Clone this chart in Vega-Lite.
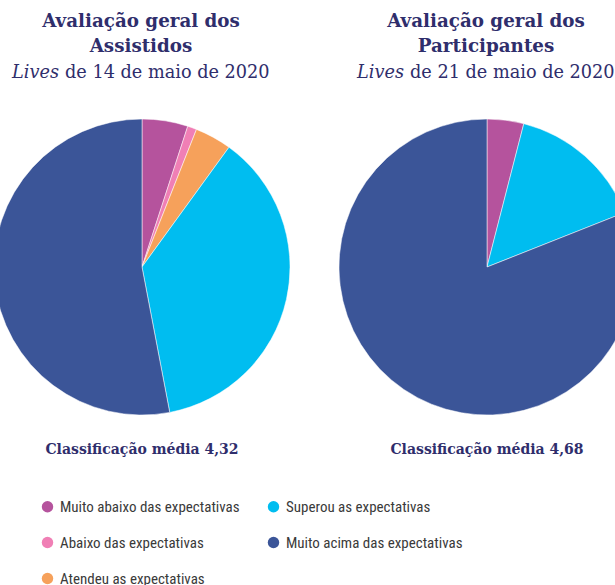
{
  "$schema": "https://vega.github.io/schema/vega-lite/v6.json",
  "width": 615,
  "height": 585,
  "padding": 0,
  "autosize": {"type": "none"},
  "background": "white",
  "config": {"view": {"stroke": null}},
  "datasets": {
    "pizza": [
      {"grupo": "Assistidos", "categoria": "Muito abaixo das expectativas", "ordem": 1, "percentual": 5},
      {"grupo": "Assistidos", "categoria": "Abaixo das expectativas", "ordem": 2, "percentual": 1},
      {"grupo": "Assistidos", "categoria": "Atendeu as expectativas", "ordem": 3, "percentual": 4},
      {"grupo": "Assistidos", "categoria": "Superou as expectativas", "ordem": 4, "percentual": 37},
      {"grupo": "Assistidos", "categoria": "Muito acima das expectativas", "ordem": 5, "percentual": 53},
      {"grupo": "Participantes", "categoria": "Muito abaixo das expectativas", "ordem": 1, "percentual": 4},
      {"grupo": "Participantes", "categoria": "Superou as expectativas", "ordem": 4, "percentual": 15},
      {"grupo": "Participantes", "categoria": "Muito acima das expectativas", "ordem": 5, "percentual": 81}
    ],
    "textos": [
      {"grupo": "Assistidos", "titulo": "Avaliação geral dos\nAssistidos", "data": "de 14 de maio de 2020", "media": "Classificação média 4,32"},
      {"grupo": "Participantes", "titulo": "Avaliação geral dos\nParticipantes", "data": "de 21 de maio de 2020", "media": "Classificação média 4,68"}
    ]
  },
  "layer": [
    {
      "data": {"name": "pizza"},
      "transform": [{"filter": "datum.grupo === 'Assistidos'"}],
      "mark": {"type": "arc", "radius": 148, "stroke": "#ffffff", "strokeWidth": 0.5, "clip": true},
      "encoding": {
        "x": {"field": "grupo", "type": "nominal", "axis": null, "scale": {"type": "point", "domain": ["Assistidos", "Participantes"], "range": [142, 487], "padding": 0}},
        "y": {"value": 267},
        "theta": {"field": "percentual", "type": "quantitative", "stack": true},
        "order": {"field": "ordem", "type": "quantitative"},
        "color": {
          "field": "categoria",
          "type": "nominal",
          "scale": {
            "domain": ["Muito abaixo das expectativas", "Abaixo das expectativas", "Atendeu as expectativas", "Superou as expectativas", "Muito acima das expectativas"],
            "range": ["#b5539d", "#f07fb5", "#f6a15b", "#00bdf0", "#3b5598"]
          },
          "legend": {
            "title": null,
            "orient": "none",
            "legendX": 40,
            "legendY": 499,
            "direction": "vertical",
            "columns": 2,
            "columnPadding": 26,
            "rowPadding": 20,
            "symbolType": "circle",
            "symbolSize": 130,
            "symbolStrokeWidth": 0,
            "labelFont": "Liberation Sans Narrow, Roboto Condensed, Roboto, sans-serif",
            "labelFontSize": 15,
            "labelColor": "#3a3a3a",
            "labelOffset": 5,
            "labelLimit": 400
          }
        }
      }
    },
    {
      "data": {"name": "pizza"},
      "transform": [{"filter": "datum.grupo === 'Participantes'"}],
      "mark": {"type": "arc", "radius": 148, "stroke": "#ffffff", "strokeWidth": 0.5, "clip": true},
      "encoding": {
        "x": {"field": "grupo", "type": "nominal", "axis": null},
        "y": {"value": 267},
        "theta": {"field": "percentual", "type": "quantitative", "stack": true},
        "order": {"field": "ordem", "type": "quantitative"},
        "color": {"field": "categoria", "type": "nominal"}
      }
    },
    {
      "data": {"name": "textos"},
      "mark": {"type": "text", "font": "DejaVu Serif", "fontWeight": "bold", "fontSize": 18.3, "color": "#2f2e6c", "align": "center", "baseline": "alphabetic", "lineBreak": "\n", "lineHeight": 25, "dx": -1},
      "encoding": {
        "x": {"field": "grupo", "type": "nominal", "axis": null},
        "y": {"value": 27},
        "text": {"field": "titulo"}
      }
    },
    {
      "data": {"name": "textos"},
      "mark": {"type": "text", "font": "DejaVu Serif", "fontStyle": "italic", "fontSize": 17.7, "color": "#2f2e6c", "align": "right", "baseline": "alphabetic", "dx": -83},
      "encoding": {
        "x": {"field": "grupo", "type": "nominal", "axis": null},
        "y": {"value": 78},
        "text": {"value": "Lives"}
      }
    },
    {
      "data": {"name": "textos"},
      "mark": {"type": "text", "font": "DejaVu Serif", "fontSize": 17.7, "color": "#2f2e6c", "align": "left", "baseline": "alphabetic", "dx": -77},
      "encoding": {
        "x": {"field": "grupo", "type": "nominal", "axis": null},
        "y": {"value": 78},
        "text": {"field": "data"}
      }
    },
    {
      "data": {"name": "textos"},
      "mark": {"type": "text", "font": "DejaVu Serif", "fontWeight": "bold", "fontSize": 14, "color": "#2f2e6c", "align": "center", "baseline": "alphabetic"},
      "encoding": {
        "x": {"field": "grupo", "type": "nominal", "axis": null},
        "y": {"value": 454},
        "text": {"field": "media"}
      }
    }
  ]
}
